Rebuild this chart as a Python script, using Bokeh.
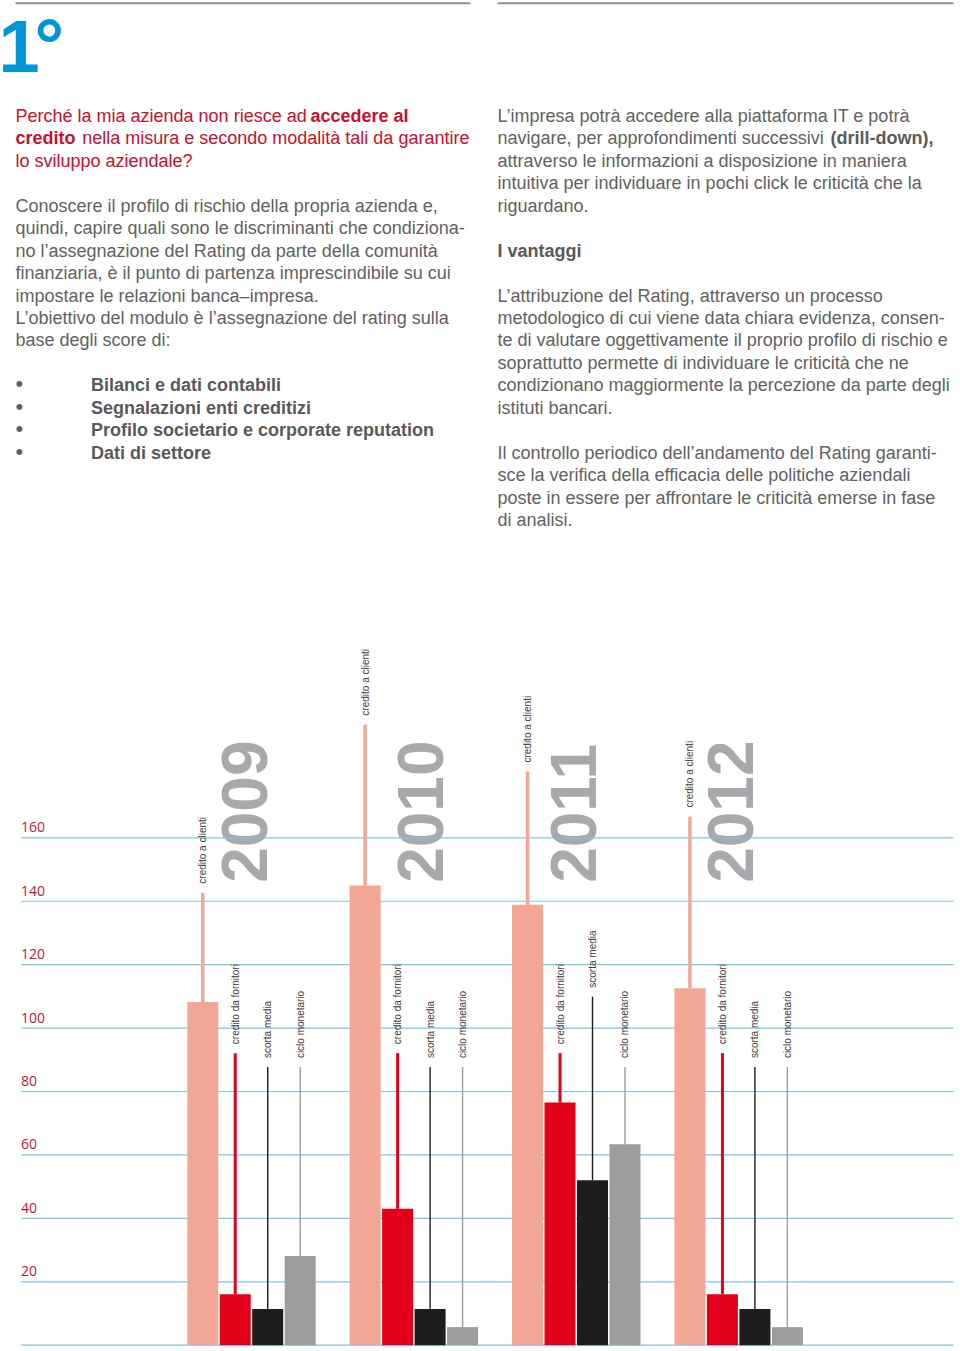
import numpy as np
from bokeh.plotting import figure
from bokeh.models import Range1d, ColumnDataSource
from bokeh.core.properties import value
from bokeh.embed import file_html
from bokeh.resources import INLINE

# ---------------- data ----------------
years = ["2009", "2010", "2011", "2012"]
series_names = ["credito a clienti", "credito da fornitori", "scorta media", "ciclo monetario"]
credito_a_clienti = [108.2, 145.0, 138.9, 112.6]
credito_da_fornitori = [16.1, 43.0, 76.5, 16.1]
scorta_media = [11.4, 11.4, 52.0, 11.4]
ciclo_monetario = [28.1, 5.7, 63.4, 5.7]
# top of the thin leader line that carries each label
leader_credito_a_clienti = [142.7, 195.7, 180.9, 166.7]
leader_credito_da_fornitori = [92.1, 92.1, 92.1, 92.1]
leader_scorta_media = [87.7, 87.7, 109.9, 87.7]
leader_ciclo_monetario = [87.7, 87.7, 87.7, 87.7]
grid_values = [0, 20, 40, 60, 80, 100, 120, 140, 160]
tick_labels = ["", "20", "40", "60", "80", "100", "120", "140", "160"]

# ---------------- page texts ----------------
question_lines = [
    [("Perché la mia azienda non riesce ad", False, 15), ("accedere al", True, 310)],
    [("credito", True, 15), ("nella misura e secondo modalità tali da garantire", False, 81.7)],
    [("lo sviluppo aziendale?", False, 15)],
]
left_body = [
    "Conoscere il profilo di rischio della propria azienda e,",
    "quindi, capire quali sono le discriminanti che condiziona-",
    "no l’assegnazione del Rating da parte della comunità",
    "finanziaria, è il punto di partenza imprescindibile su cui",
    "impostare le relazioni banca–impresa.",
    "L’obiettivo del modulo è l’assegnazione del rating sulla",
    "base degli score di:",
]
bullets = [
    "Bilanci e dati contabili",
    "Segnalazioni enti creditizi",
    "Profilo societario e corporate reputation",
    "Dati di settore",
]
right_lines = [
    (0, [("L’impresa potrà accedere alla piattaforma IT e potrà", False, 497)]),
    (1, [("navigare, per approfondimenti successivi", False, 497), ("(drill-down),", True, 830)]),
    (2, [("attraverso le informazioni a disposizione in maniera", False, 497)]),
    (3, [("intuitiva per individuare in pochi click le criticità che la", False, 497)]),
    (4, [("riguardano.", False, 497)]),
    (6, [("I vantaggi", True, 497)]),
    (8, [("L’attribuzione del Rating, attraverso un processo", False, 497)]),
    (9, [("metodologico di cui viene data chiara evidenza, consen-", False, 497)]),
    (10, [("te di valutare oggettivamente il proprio profilo di rischio e", False, 497)]),
    (11, [("soprattutto permette di individuare le criticità che ne", False, 497)]),
    (12, [("condizionano maggiormente la percezione da parte degli", False, 497)]),
    (13, [("istituti bancari.", False, 497)]),
    (15, [("Il controllo periodico dell’andamento del Rating garanti-", False, 497)]),
    (16, [("sce la verifica della efficacia delle politiche aziendali", False, 497)]),
    (17, [("poste in essere per affrontare le criticità emerse in fase", False, 497)]),
    (18, [("di analisi.", False, 497)]),
]

# ---------------- layout ----------------
PAGE_X0, PAGE_Y0 = 0, 0
W, H = 960, 1351
PX_PER_UNIT = 3.171
ZERO_Y = 1344.7          # page y of value 0
SLOT_PX = 32.48
SLOT0_X = 186.0          # page x of the first bar's left edge
SLOTS = 5                # 4 bars + 1 empty slot per year
BAR_W = 0.955
YEAR_X_SHIFT = [1.80, 2.205, 1.924, 1.749]
YEAR_Y = 145.8
LINE0 = 121.7
LEAD = 22.45
FONT = "Liberation Sans"
MID = 0.3465             # em-box middle above the baseline (Liberation Sans)
TEXT_GRAY = "#616163"
Q_RED = "#c8102e"

x_start = (PAGE_X0 - SLOT0_X) / SLOT_PX
x_end = (PAGE_X0 + W - SLOT0_X) / SLOT_PX
y_start = (ZERO_Y - (PAGE_Y0 + H)) / PX_PER_UNIT
y_end = (ZERO_Y - PAGE_Y0) / PX_PER_UNIT

p = figure(width=W, height=H, x_range=Range1d(x_start, x_end), y_range=Range1d(y_start, y_end),
           output_backend="svg", toolbar_location=None, min_border=0,
           x_axis_location=None, y_axis_location=None, outline_line_color=None,
           background_fill_color="white", border_fill_color="white")
p.grid.visible = False
p.extra_x_ranges = {"page": Range1d(PAGE_X0, PAGE_X0 + W)}
p.extra_y_ranges = {"page": Range1d(PAGE_Y0 + H, PAGE_Y0)}


def base(k):
    return LINE0 + LEAD * k


def put(x, y, txt, bold=False, color=TEXT_GRAY, size=18, x_offset=0):
    # y is the wanted baseline; text is anchored on the em-box middle
    p.text(x=[x], y=[y - MID * size], text=[txt], x_range_name="page", y_range_name="page",
           x_offset=x_offset, text_align="left", text_baseline="middle", text_font=value(FONT),
           text_font_style="bold" if bold else "normal", text_font_size=f"{size}px", text_color=color)


# top rules
p.segment(x0=[15, 497], x1=[470, 953], y0=[2.8, 2.8], y1=[2.8, 2.8],
          x_range_name="page", y_range_name="page", line_color="#8e8e8e", line_width=2)

# 1°
put(0, 71, "1", bold=True, color="#0096d6", size=74, x_offset=-2)
put(34, 71, "°", bold=True, color="#0096d6", size=74)

for k, segs in enumerate(question_lines):
    for txt, bold, x in segs:
        put(x, base(k), txt, bold, Q_RED)
for i, txt in enumerate(left_body):
    put(15, base(4 + i), txt)
for i, txt in enumerate(bullets):
    put(15, base(12 + i), "•", size=22)
    put(90.5, base(12 + i), txt, bold=True, color="#59595b")
for k, segs in right_lines:
    for txt, bold, x in segs:
        put(x, base(k), txt, bold, "#59595b" if bold else TEXT_GRAY)

# ---------------- chart ----------------
p.text(x=[g * SLOTS + s for g, s in enumerate(YEAR_X_SHIFT)], y=[YEAR_Y] * 4, text=years,
       angle=np.pi / 2, text_align="left", text_baseline="middle",
       text_font=value(FONT), text_font_style="bold", text_font_size="64px", text_color="#a7a9ac")

n = len(grid_values)
p.segment(x0=[20.7] * n, x1=[953] * n, y0=grid_values, y1=grid_values, x_range_name="page",
          line_color="#7cc5dc", line_width=1.2)
p.text(x=[20.5] * (n - 1), y=grid_values[1:], text=tick_labels[1:], x_range_name="page",
       y_offset=-10.5, text_align="left", text_baseline="middle",
       text_font=value("Open Sans"), text_font_size="14px", text_color="#c0163c")

series_vals = [credito_a_clienti, credito_da_fornitori, scorta_media, ciclo_monetario]
leaders = [leader_credito_a_clienti, leader_credito_da_fornitori, leader_scorta_media, leader_ciclo_monetario]
colors = ["#f2a795", "#e2001a", "#1d1d1b", "#9d9d9c"]
leader_widths = [3.5, 3.0, 1.4, 1.4]
for j in range(4):
    xs = [g * SLOTS + j + 0.5 for g in range(len(years))]
    src = ColumnDataSource(dict(x=xs, top=series_vals[j], lead=leaders[j],
                                label=[series_names[j]] * len(years)))
    p.vbar(x="x", top="top", bottom=0, width=BAR_W, source=src, fill_color=colors[j], line_color=None)
    p.segment(x0="x", y0="top", x1="x", y1="lead", source=src, line_color=colors[j],
              line_width=leader_widths[j])
    p.text(x="x", y="lead", text="label", source=src, angle=np.pi / 2, y_offset=-9,
           text_align="left", text_baseline="middle", text_font=value(FONT),
           text_font_size="10px", text_color="#3c3c3b")

open("out.html", "w").write(file_html(p, INLINE))
